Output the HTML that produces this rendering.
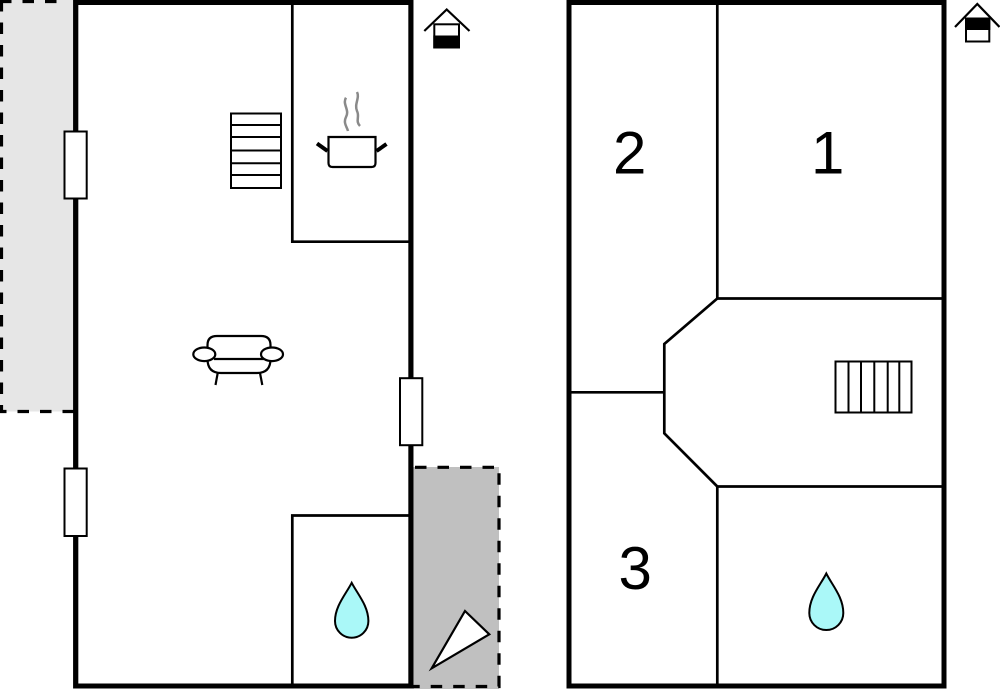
<!DOCTYPE html>
<html><head><meta charset="utf-8"><style>
html,body{margin:0;padding:0;background:#fff;}
svg{display:block;}
text{font-family:"Liberation Sans",Arial,sans-serif;}
</style></head><body>
<svg width="1000" height="689" viewBox="0 0 1000 689" xmlns="http://www.w3.org/2000/svg">
<!-- left light gray dashed area -->
<rect x="0" y="0" width="75" height="411.5" fill="#e6e6e6"/>
<path d="M1.5,0 L1.5,411.5 L75,411.5" fill="none" stroke="#000" stroke-width="3.2" stroke-dasharray="11.5,11"/>
<path d="M0,1.5 L64,1.5" fill="none" stroke="#000" stroke-width="3.2" stroke-dasharray="11.5,11"/>
<!-- right dark gray dashed area -->
<rect x="413" y="467" width="86" height="222" fill="#c0c0c0"/>
<path d="M415,467.3 L499,467.3 L499,686.5 L413,686.5" fill="none" stroke="#000" stroke-width="3.2" stroke-dasharray="11.5,11"/>
<!-- left building -->
<rect x="75.7" y="2.5" width="335.2" height="683.5" fill="#fff" stroke="#000" stroke-width="5"/>
<rect x="75.7" y="2.5" width="335.2" height="683.5" fill="none" stroke="#000" stroke-width="5"/>
<!-- kitchen -->
<path d="M292.3,3 L292.3,241.7 L409,241.7" fill="none" stroke="#000" stroke-width="2.7"/>
<!-- bathroom -->
<path d="M292.3,684 L292.3,515.5 L409,515.5" fill="none" stroke="#000" stroke-width="2.7"/>
<!-- windows -->
<rect x="64.5" y="131.5" width="22.2" height="67" fill="#fff" stroke="#000" stroke-width="2"/>
<rect x="64.5" y="468.5" width="22.2" height="67.5" fill="#fff" stroke="#000" stroke-width="2"/>
<rect x="400" y="378.2" width="22.3" height="67" fill="#fff" stroke="#000" stroke-width="2"/>
<!-- stairs left -->
<g fill="none" stroke="#000" stroke-width="2">
<rect x="231" y="113.5" width="50" height="74.5" fill="#fff"/>
<line x1="231" y1="125" x2="281" y2="125"/>
<line x1="231" y1="137" x2="281" y2="137"/>
<line x1="231" y1="150.5" x2="281" y2="150.5"/>
<line x1="231" y1="163.3" x2="281" y2="163.3"/>
<line x1="231" y1="175" x2="281" y2="175"/>
</g>
<!-- pot -->
<path d="M346,97.7 C342,104 350,110 346,117 C343,123 347,127 348,131" fill="none" stroke="#8a8a8a" stroke-width="2.5"/>
<path d="M357,92 C360,98 354,104 357,111 C360,117 355,121 360,126" fill="none" stroke="#8a8a8a" stroke-width="2.5"/>
<path d="M328.5,137 L328.5,163 Q328.5,167 332.5,167 L371.5,167 Q375.5,167 375.5,163 L375.5,137 Z" fill="#fff" stroke="#000" stroke-width="2.2"/>
<line x1="317" y1="143.5" x2="327.5" y2="151" stroke="#000" stroke-width="4"/>
<line x1="376.5" y1="151" x2="386.5" y2="144" stroke="#000" stroke-width="4"/>
<!-- sofa -->
<g fill="none" stroke="#000" stroke-width="2.2">
<path d="M207.5,351 L207.5,345 Q207.5,336 217,336 L261,336 Q270.5,336 270.5,345 L270.5,351"/>
<path d="M207.5,359 Q207.5,373 221,373 L257,373 Q270.5,373 270.5,359"/>
<line x1="214" y1="359" x2="264" y2="359"/>
<line x1="217.7" y1="373" x2="215.5" y2="385"/>
<line x1="260" y1="373" x2="262.3" y2="385"/>
<ellipse cx="204.3" cy="354.3" rx="11" ry="6.8" fill="#fff"/>
<ellipse cx="272" cy="354.3" rx="11" ry="6.8" fill="#fff"/>
</g>
<!-- drop left -->
<path d="M351.7,582.8 C346,594 335,606 335,621 A16.7,16.7 0 0 0 368.4,621 C368.4,606 357.5,594 351.7,582.8 Z" fill="#aaf8f8" stroke="#000" stroke-width="2"/>
<!-- triangle -->
<polygon points="465,611 489.3,634.3 431.7,668.3" fill="#fff" stroke="#000" stroke-width="2.2"/>
<!-- house icon left -->
<rect x="434.3" y="24.3" width="24.7" height="23" fill="#fff" stroke="#000" stroke-width="2"/>
<rect x="433.3" y="35.5" width="26.7" height="13" fill="#000"/>
<polyline points="424.3,31 446.7,9.5 469.5,31" fill="none" stroke="#000" stroke-width="2.2"/>
<!-- right building -->
<rect x="569" y="2.5" width="375" height="683.5" fill="#fff" stroke="#000" stroke-width="5"/>
<g fill="none" stroke="#000" stroke-width="2.7">
<path d="M717.3,3 L717.3,298.5 L942,298.5"/>
<path d="M717.3,298.5 L664.3,344 L664.3,433.3 L717.3,486.5 L942,486.5"/>
<path d="M717.3,486.5 L717.3,684"/>
<path d="M571,392.3 L664.3,392.3"/>
</g>
<!-- stairs right -->
<g fill="none" stroke="#000" stroke-width="2">
<rect x="835.5" y="361.5" width="76" height="51" fill="#fff"/>
<line x1="848.5" y1="361.5" x2="848.5" y2="412.5"/>
<line x1="861" y1="361.5" x2="861" y2="412.5"/>
<line x1="874.3" y1="361.5" x2="874.3" y2="412.5"/>
<line x1="887.7" y1="361.5" x2="887.7" y2="412.5"/>
<line x1="899.3" y1="361.5" x2="899.3" y2="412.5"/>
</g>
<!-- numbers -->
<text x="613" y="173.3" font-size="60" fill="#000">2</text>
<text x="811" y="173.3" font-size="60" fill="#000">1</text>
<text x="618.5" y="589" font-size="60" fill="#000">3</text>
<!-- drop right -->
<path d="M826.3,573.5 C820.5,585 809.3,597 809.3,613 A17,17 0 0 0 843.3,613 C843.3,597 832,585 826.3,573.5 Z" fill="#aaf8f8" stroke="#000" stroke-width="2"/>
<!-- house icon right -->
<rect x="966" y="18.5" width="23.3" height="23" fill="#fff" stroke="#000" stroke-width="2"/>
<rect x="965" y="17.5" width="25.3" height="12.5" fill="#000"/>
<polyline points="955,27 977.3,4 999.5,27" fill="none" stroke="#000" stroke-width="2.2"/>
</svg>
</body></html>
